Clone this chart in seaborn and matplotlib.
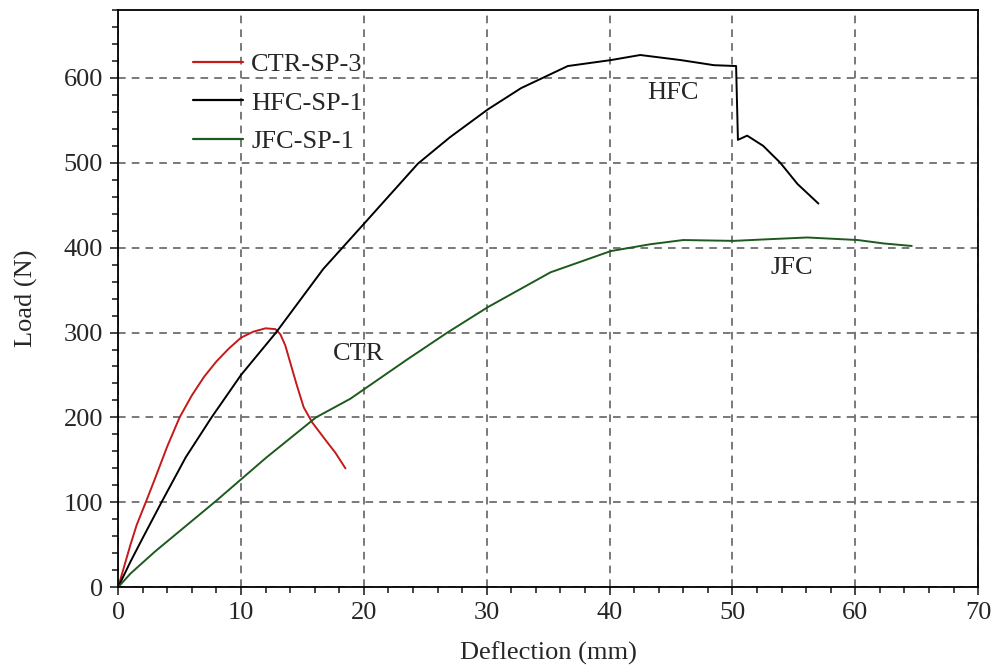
import matplotlib
matplotlib.use("Agg")
import matplotlib.pyplot as plt
from matplotlib.ticker import MultipleLocator
import numpy as np
import pandas as pd
import seaborn as sns

sns.set_style("ticks")
plt.rcParams['font.family'] = ['Liberation Serif', 'DejaVu Serif']
fontsize = 19
plt.rcParams['font.size'] = fontsize

# CTR-SP-3
ctr_x = [0, 0.5, 1.0, 1.5, 2.3, 3.0, 4.0, 5.0, 6.0, 7.0, 8.0, 9.0, 10.0, 11.0,
         12.0, 12.8, 13.2, 13.6, 14.0, 14.5, 15.1, 15.8, 16.9, 17.7, 18.5]
ctr_y = [0, 25, 50, 73, 102, 128, 166, 200, 226, 248, 266, 281, 294, 301,
         305, 304, 298, 285, 265, 240, 212, 194, 173, 158, 140]

# HFC-SP-1
hfc_x = [0, 1.0, 2.0, 3.6, 5.5, 7.6, 10.0, 12.85, 16.7, 20.0, 24.4, 27.0, 30.1,
         32.8, 36.6, 40.1, 42.5, 45.8, 48.5, 50.3, 50.45, 51.2, 52.5, 53.9, 55.3, 57.0]
hfc_y = [0, 30, 58, 102, 153, 200, 250, 300, 375, 428, 499, 530, 563,
         588, 614, 621, 627, 621, 615, 614, 527, 532, 520, 500, 475, 452]

# JFC-SP-1
jfc_x = [0, 1.0, 3.0, 5.5, 8.0, 12.0, 16.1, 18.9, 20.2, 23.5, 26.8, 30.1, 35.2,
         40.1, 43.3, 46.0, 50.1, 53.0, 56.1, 60.2, 62.3, 64.6]
jfc_y = [0, 16, 42, 72, 102, 152, 200, 222, 235, 268, 300, 330, 371,
         396, 404, 409, 408, 410, 412, 409, 405, 402]

series_names = ["CTR-SP-3", "HFC-SP-1", "JFC-SP-1"]
colors = ["#c41a1a", "#000000", "#1d5a1d"]

frames = []
for name, xs, ys in zip(series_names, [ctr_x, hfc_x, jfc_x], [ctr_y, hfc_y, jfc_y]):
    frames.append(pd.DataFrame({"Deflection": xs, "Load": ys, "specimen": name}))
df = pd.concat(frames, ignore_index=True)

fig = plt.figure(figsize=(9.93, 6.68), dpi=100)
ax = fig.add_axes([0.119, 0.121, 0.866, 0.864])

sns.lineplot(data=df, x="Deflection", y="Load", hue="specimen", palette=colors,
             sort=False, estimator=None, linewidth=1.4, ax=ax)

ax.set_xlim(0, 70)
ax.set_ylim(0, 680)
ax.xaxis.set_major_locator(MultipleLocator(10))
ax.xaxis.set_minor_locator(MultipleLocator(2))
ax.yaxis.set_major_locator(MultipleLocator(100))
ax.yaxis.set_minor_locator(MultipleLocator(20))
ax.tick_params(which="major", direction="out", length=6, width=1.2, labelsize=fontsize, pad=5)
ax.tick_params(which="minor", direction="out", length=4.5, width=1.2)
ax.grid(True, which="major", linestyle=(0, (5, 4)), color="#555555", linewidth=1.1)
ax.set_axisbelow(True)
for s in ax.spines.values():
    s.set_linewidth(1.3)
    s.set_color("black")

ax.set_xlabel("Deflection (mm)", fontsize=fontsize, labelpad=12)
ax.set_ylabel("Load (N)", fontsize=fontsize, labelpad=18)

leg = ax.legend(loc="upper left", bbox_to_anchor=(0.075, 0.944), frameon=False,
                fontsize=fontsize, handlelength=1.9, handletextpad=0.3, labelspacing=0.56,
                borderaxespad=0.0)
for line in leg.get_lines():
    line.set_linewidth(1.6)

ax.text(45.2, 582, "HFC", fontsize=fontsize, ha="center", va="center")
ax.text(54.8, 376, "JFC", fontsize=fontsize, ha="center", va="center")
ax.text(19.6, 275, "CTR", fontsize=fontsize, ha="center", va="center")

fig.savefig("out.png", dpi=100)
